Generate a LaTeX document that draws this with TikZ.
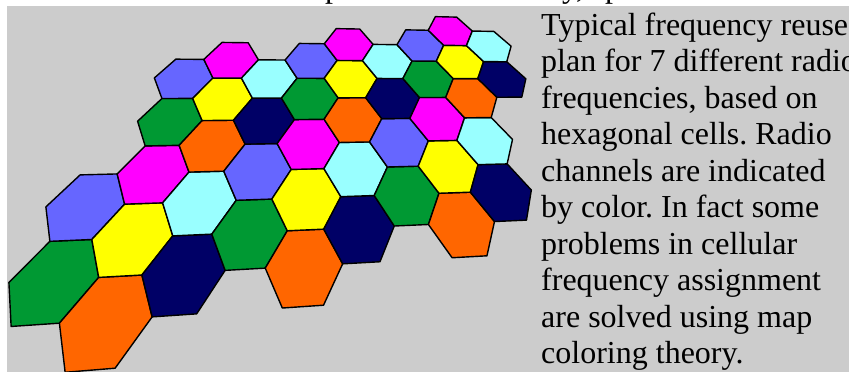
\documentclass[tikz,border=0pt]{standalone}
\usepackage{fontspec}
\setmainfont{Liberation Serif}
\frenchspacing
\definecolor{mapPaper}{HTML}{CCCCCC}
\definecolor{cellOrange}{HTML}{FF6600}
\definecolor{cellYellow}{HTML}{FFFF00}
\definecolor{cellMagenta}{HTML}{FF00FF}
\definecolor{cellGreen}{HTML}{009933}
\definecolor{cellBlue}{HTML}{6666FF}
\definecolor{cellNavy}{HTML}{000066}
\definecolor{cellCyan}{HTML}{99FFFF}
% corner of the tilted hexagon lattice: column, half-row, name
\newcommand\mapcorner[3]{%
  \pgfmathsetmacro\mapw{1+0.02022*(#1-2)+0.0684*(#2)}%
  \pgfmathsetmacro\mapx{(106.4+71.676*(#1-2)+22.266*(#2))/\mapw}%
  \pgfmathsetmacro\mapy{(320+1.732*(#1-2)-24.915*(#2))/\mapw}%
  \coordinate (#3) at (\mapx,\mapy);}

\begin{document}
\begin{tikzpicture}[x=1pt,y=-1pt,line cap=round,line join=round]
\useasboundingbox (0,0) rectangle (849,372);
\path[fill=white] (0,0) rectangle (849,372);
\tikzset{cell/.style={draw=black,line width=1.4pt},caption/.style={text=black,font=\fontsize{32}{36.5}\selectfont,inner sep=0pt}}
% cut-off line above the frame
\node[caption,anchor=base west] (cutA) at (325,-2) {p};
\node[caption,anchor=base west] (cutB) at (562,-2) {y,};
\node[caption,anchor=base west] (cutC) at (605,-2) {p};
\path[fill=mapPaper] (7,6) rectangle (849,372);
% cells: column / half-row / channel
\foreach \c/\h/\col in {1/1/cellGreen,1/3/cellBlue,
  2/0/cellOrange,2/2/cellYellow,2/4/cellMagenta,2/6/cellGreen,2/8/cellBlue,
  3/1/cellNavy,3/3/cellCyan,3/5/cellOrange,3/7/cellYellow,3/9/cellMagenta,
  4/2/cellGreen,4/4/cellBlue,4/6/cellNavy,4/8/cellCyan,
  5/1/cellOrange,5/3/cellYellow,5/5/cellMagenta,5/7/cellGreen,5/9/cellBlue,
  6/2/cellNavy,6/4/cellCyan,6/6/cellOrange,6/8/cellYellow,6/10/cellMagenta,
  7/3/cellGreen,7/5/cellBlue,7/7/cellNavy,7/9/cellCyan,
  8/2/cellOrange,8/4/cellYellow,8/6/cellMagenta,8/8/cellGreen,8/10/cellBlue,
  9/3/cellNavy,9/5/cellCyan,9/7/cellOrange,9/9/cellYellow,9/11/cellMagenta,
  10/8/cellNavy,10/10/cellCyan}{
  \mapcorner{\c+2/3}{\h}{k1}
  \mapcorner{\c+1/3}{\h+1}{k2}
  \mapcorner{\c-1/3}{\h+1}{k3}
  \mapcorner{\c-2/3}{\h}{k4}
  \mapcorner{\c-1/3}{\h-1}{k5}
  \mapcorner{\c+1/3}{\h-1}{k6}
  \draw[cell,fill=\col] (k1) -- (k2) -- (k3) -- (k4) -- (k5) -- (k6) -- cycle;
}
\node[caption,anchor=base west,align=left] (note) at (541,363.5) {Typical frequency reuse\\plan for 7 different radio\\frequencies, based on\\hexagonal cells. Radio\\channels are indicated\\by color. In fact some\\problems in cellular\\frequency assignment\\are solved using map\\coloring theory.};
\end{tikzpicture}
\end{document}
